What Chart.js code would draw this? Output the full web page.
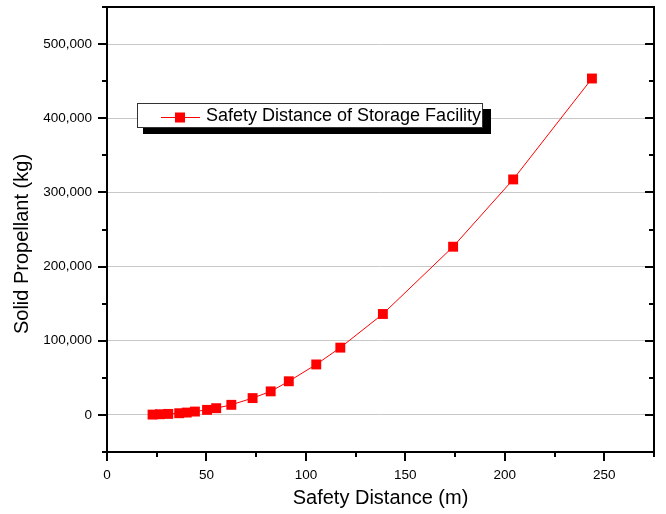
<!DOCTYPE html>
<html>
<head>
<meta charset="utf-8">
<title>Safety Distance of Storage Facility</title>
<script src="https://cdn.jsdelivr.net/npm/chart.js@4"></script>
<style>
  html, body { margin: 0; padding: 0; background: #fff; }
  canvas { display: block; }
</style>
</head>
<body>
<canvas id="qdChart" width="666" height="514"></canvas>
<script>
// distance (m) vs. propellant mass (kg)
const distanceM = [22.9, 26.6, 30.8, 36.3, 40.1, 44.2, 50.3, 54.9, 62.5, 73.2, 82.3, 91.4, 105.2, 117.3, 138.7, 174.0, 204.2, 243.8];
const propellantKg = [454, 907, 1361, 2268, 3175, 4536, 6804, 9072, 13608, 22680, 31751, 45359, 68039, 90718, 136078, 226796, 317515, 453592];

const seriesLabel = 'Safety Distance of Storage Facility';
const xMajorTicks = [0, 50, 100, 150, 200, 250];
const yMajorTicks = [0, 100000, 200000, 300000, 400000, 500000];

const FONT = "'Liberation Sans', Arial, sans-serif";

// frame, tick marks, y title and the boxed legend (Origin style)
const framePlugin = {
    id: 'frame',
    afterDraw(chart) {
        const ctx = chart.ctx;
        const area = chart.chartArea;
        const xs = chart.scales.x;
        const ys = chart.scales.y;

        ctx.save();
        ctx.strokeStyle = '#000';
        ctx.lineWidth = 2;

        // ticks on left (outward) and right (inward)
        for (let v = -50000; v <= 550000; v += 50000) {
            const py = Math.round(ys.getPixelForValue(v));
            const len = yMajorTicks.includes(v) ? 9 : 5;
            ctx.beginPath();
            ctx.moveTo(area.left - len, py);
            ctx.lineTo(area.left, py);
            ctx.moveTo(area.right - len, py);
            ctx.lineTo(area.right, py);
            ctx.stroke();
        }
        // ticks on bottom (outward)
        for (let v = 0; v <= 275; v += 25) {
            const px = Math.round(xs.getPixelForValue(v));
            const len = xMajorTicks.includes(v) ? 9 : 5;
            ctx.beginPath();
            ctx.moveTo(px, area.bottom);
            ctx.lineTo(px, area.bottom + len);
            ctx.stroke();
        }
        ctx.strokeRect(area.left, area.top, area.right - area.left, area.bottom - area.top);

        // y axis title
        ctx.fillStyle = '#000';
        ctx.font = '20px ' + FONT;
        ctx.textAlign = 'center';
        ctx.textBaseline = 'middle';
        ctx.translate(22, 244);
        ctx.rotate(-Math.PI / 2);
        ctx.fillText('Solid Propellant (kg)', 0, 0);
        ctx.restore();

        // legend box with drop shadow
        ctx.save();
        ctx.fillStyle = '#000';
        ctx.fillRect(143, 109, 348, 25);
        ctx.fillStyle = '#fff';
        ctx.fillRect(137, 103, 345, 24);
        ctx.strokeStyle = '#333';
        ctx.lineWidth = 1;
        ctx.strokeRect(137.5, 103.5, 345, 24);

        ctx.strokeStyle = 'rgb(255,0,0)';
        ctx.beginPath();
        ctx.moveTo(161, 117.5);
        ctx.lineTo(200, 117.5);
        ctx.stroke();
        ctx.fillStyle = 'rgb(255,0,0)';
        ctx.fillRect(175, 112.5, 10, 10);

        ctx.fillStyle = '#000';
        ctx.font = '18px ' + FONT;
        ctx.textAlign = 'left';
        ctx.textBaseline = 'middle';
        ctx.fillText(seriesLabel, 206, 116);
        ctx.restore();
    }
};

const points = distanceM.map((d, i) => ({ x: d, y: propellantKg[i] }));

new Chart(document.getElementById('qdChart'), {
    type: 'line',
    data: {
        datasets: [{
            label: seriesLabel,
            data: points,
            borderColor: 'rgb(255,0,0)',
            borderWidth: 1,
            backgroundColor: 'rgb(255,0,0)',
            pointStyle: 'rect',
            pointRadius: 7,
            pointBorderWidth: 0,
            pointBackgroundColor: 'rgb(255,0,0)',
            tension: 0,
            fill: false
        }]
    },
    options: {
        responsive: false,
        animation: false,
        layout: {
            padding: { top: 7, right: 12, left: 0, bottom: 0 }
        },
        plugins: {
            legend: { display: false },
            tooltip: { enabled: false }
        },
        scales: {
            x: {
                type: 'linear',
                min: 0,
                max: 275,
                afterFit: function(scale) {
                    scale.height = 62;
                    scale.paddingLeft = 0;
                    scale.paddingRight = 0;
                },
                ticks: {
                    stepSize: 25,
                    autoSkip: false,
                    maxRotation: 0,
                    padding: 15,
                    color: '#000',
                    font: { family: FONT, size: 13.5 },
                    callback: function(value) {
                        return xMajorTicks.includes(value) ? String(value) : '';
                    }
                },
                grid: { display: false, drawTicks: false },
                border: { display: false },
                title: {
                    display: true,
                    text: 'Safety Distance (m)',
                    color: '#000',
                    font: { family: FONT, size: 20 },
                    padding: { top: 0, bottom: 4 }
                }
            },
            y: {
                min: -50000,
                max: 550000,
                afterFit: function(scale) {
                    scale.width = 107;
                    scale.paddingTop = 0;
                    scale.paddingBottom = 0;
                },
                ticks: {
                    stepSize: 50000,
                    autoSkip: false,
                    padding: 15,
                    color: '#000',
                    font: { family: FONT, size: 13.5 },
                    callback: function(value) {
                        return yMajorTicks.includes(value) ? value.toLocaleString('en-US') : '';
                    }
                },
                grid: {
                    drawTicks: false,
                    lineWidth: 1,
                    color: function(ctx) {
                        return ctx.tick && yMajorTicks.includes(ctx.tick.value) ? '#c8c8c8' : 'rgba(0,0,0,0)';
                    }
                },
                border: { display: false }
            }
        }
    },
    plugins: [framePlugin]
});
</script>
</body>
</html>
